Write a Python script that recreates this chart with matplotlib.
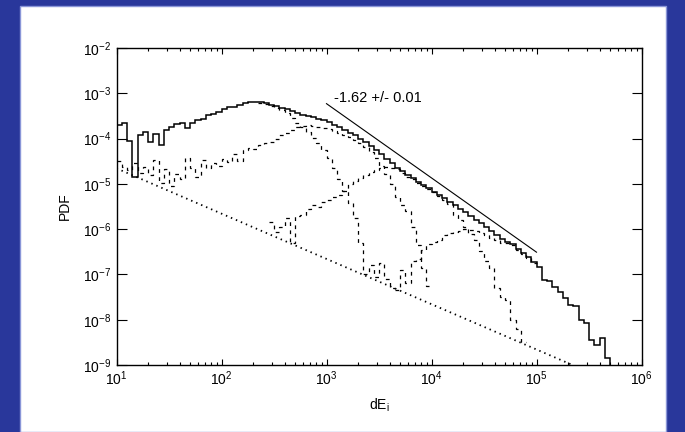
import numpy as np
import matplotlib.pyplot as plt
from matplotlib.patches import Rectangle
from matplotlib.ticker import NullLocator, FixedLocator

plt.rcParams['font.family'] = ['Liberation Sans', 'DejaVu Sans']
plt.rcParams['mathtext.fontset'] = 'custom'
plt.rcParams['mathtext.rm'] = 'Liberation Sans'

# histogram bins are 0.05 in log10(dE); values below are log10(PDF) read per bin
BIN = 0.05

total_start = 1.00
total_log = [-3.70, -3.66, -4.05, -4.84, -3.92, -3.85, -4.07, -3.90, -4.15, -3.81,
             -3.75, -3.68, -3.65, -3.77, -3.66, -3.60, -3.57, -3.48, -3.45, -3.42,
             -3.35, -3.30, -3.30, -3.26, -3.22, -3.20, -3.185, -3.20, -3.22, -3.26,
             -3.29, -3.32, -3.35, -3.39, -3.43, -3.47, -3.50, -3.53, -3.56, -3.59,
             -3.64, -3.69, -3.75, -3.80, -3.87, -3.93, -4.01, -4.08, -4.17, -4.25,
             -4.34, -4.45, -4.55, -4.64, -4.72, -4.80, -4.86, -4.95, -5.03, -5.10,
             -5.17, -5.24, -5.32, -5.40, -5.47, -5.55, -5.63, -5.71, -5.80, -5.86,
             -5.96, -6.03, -6.13, -6.22, -6.28, -6.33, -6.44, -6.52, -6.62, -6.72,
             -6.83, -7.12, -7.15, -7.27, -7.38, -7.52, -7.67, -7.70, -8.00, -8.07,
             -8.45, -8.55, -8.40, -8.85, -9.30]

compA_start = 2.35
compA_log = [-3.21, -3.24, -3.28, -3.33, -3.38, -3.44, -3.55, -3.65, -3.75, -3.85,
             -3.98, -4.10, -4.25, -4.43, -4.65, -4.90, -5.15, -5.42, -5.75, -6.30,
             -7.00, -6.80, -7.05, -6.75, -7.10, -7.30]

compB_start = 1.00
compB_log = [-4.50, -4.62, -4.70, -4.54, -4.75, -4.62, -4.80, -4.47, -4.98, -4.68,
             -5.05, -4.78, -4.90, -4.42, -4.66, -4.85, -4.48, -4.66, -4.54, -4.60,
             -4.45, -4.52, -4.33, -4.50, -4.26, -4.21, -4.22, -4.15, -4.10, -4.08,
             -4.00, -3.92, -3.87, -3.80, -3.74, -3.72, -3.71, -3.73, -3.74, -3.76,
             -3.79, -3.83, -3.87, -3.92, -3.97, -4.03, -4.10, -4.18, -4.30, -4.43,
             -4.60, -4.78, -5.00, -5.29, -5.47, -5.60, -5.95, -6.35, -6.85, -7.25]

compC_start = 2.45
compC_log = [-5.84, -6.06, -5.95, -5.76, -6.30, -5.71, -5.68, -5.55, -5.47, -5.52,
             -5.40, -5.36, -5.30, -5.25, -5.15, -5.00, -4.93, -4.88, -4.80, -4.74,
             -4.70, -4.64, -4.62, -4.64, -4.68, -4.76, -4.84, -4.90, -4.98, -5.05,
             -5.12, -5.19, -5.27, -5.35, -5.45, -5.68, -5.80, -5.95, -6.10, -6.25,
             -6.48, -6.70, -6.86, -7.30, -7.50, -7.56, -8.00, -8.20, -8.50]

compD_start = 3.65
compD_log = [-7.34, -6.90, -7.20, -6.70, -6.65, -6.45, -6.33, -6.28, -6.25, -6.12,
             -6.08, -6.06, -6.03, -6.00, -6.02, -6.04, -6.08, -6.13, -6.20, -6.25,
             -6.30, -6.31, -6.36, -6.46, -6.54, -6.64, -6.74]

# power-law fit line and the dotted reference line (end points)
fit_x = [1e3, 1e5]
fit_y = [5.9e-4, 3.1e-7]
fit_label = '-1.62 +/- 0.01'
dot_x = [10, 2.2e5]
dot_y = [2.2e-5, 1.0e-9]

xticks = [1e1, 1e2, 1e3, 1e4, 1e5, 1e6]
yticks = [1e-9, 1e-8, 1e-7, 1e-6, 1e-5, 1e-4, 1e-3, 1e-2]


def edges(start, n):
    return 10 ** (start + BIN * np.arange(n + 1))


W, H = 685, 432
fig = plt.figure(figsize=(W / 100, H / 100), dpi=100, facecolor='#29379b')
fig.patches.append(Rectangle((20 / W, 0), 646 / W, 1 - 6 / H, transform=fig.transFigure,
                             facecolor='white', edgecolor='#8a96d8', linewidth=1.0,
                             zorder=-5))

ax = fig.add_axes([116.5 / W, 1 - 365 / H, 525 / W, 317 / H])
ax.set_facecolor('none')
ax.set_xscale('log')
ax.set_yscale('log')

dash = (0, (3, 3.5))
for start, vals in [(compA_start, compA_log), (compB_start, compB_log),
                    (compC_start, compC_log), (compD_start, compD_log)]:
    ax.stairs(10 ** np.array(vals), edges(start, len(vals)), baseline=None,
              color='black', linewidth=0.9, linestyle=dash)
ax.stairs(10 ** np.array(total_log), edges(total_start, len(total_log)), baseline=None,
          color='black', linewidth=1.1)

ax.plot(dot_x, dot_y, color='black', linewidth=1.3, linestyle=(0, (0.8, 2.2)))
ax.plot(fit_x, fit_y, color='black', linewidth=0.8)
ax.text(1.17e3, 6.3e-4, fit_label, fontsize=10.5, ha='left', va='baseline')

ax.set_xlim(1e1, 1e6)
ax.set_ylim(1e-9, 1e-2)
ax.xaxis.set_major_locator(FixedLocator(xticks))
ax.yaxis.set_major_locator(FixedLocator(yticks))
ax.yaxis.set_minor_locator(NullLocator())

ax.tick_params(which='both', direction='in', top=True, right=True, labelsize=10,
               width=0.8)
ax.tick_params(axis='x', which='major', length=4.5, pad=3)
ax.tick_params(axis='x', which='minor', length=2.5)
ax.tick_params(axis='y', which='major', length=7.5, pad=4)
for s in ax.spines.values():
    s.set_linewidth(1.0)

ax.set_xlabel(r'dE$_\mathregular{i}$', fontsize=10, labelpad=6)
ax.set_ylabel('PDF', fontsize=10, labelpad=8)

fig.savefig('out.png', dpi=100, facecolor=fig.get_facecolor())
